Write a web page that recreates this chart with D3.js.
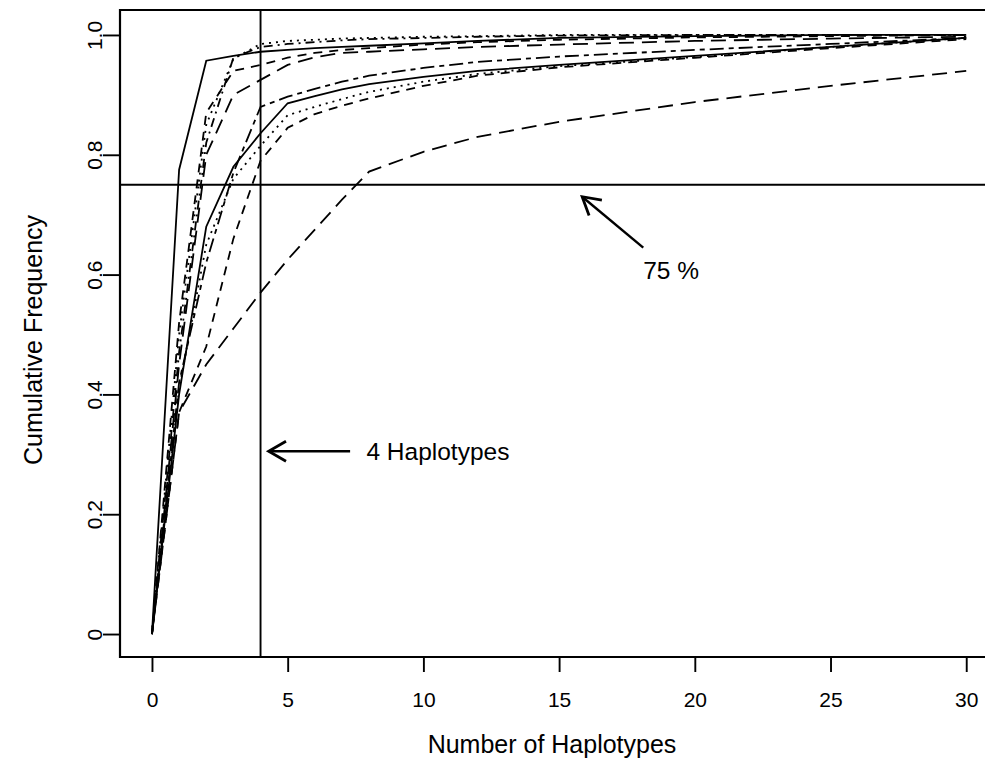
<!DOCTYPE html>
<html><head><meta charset="utf-8">
<script src="https://cdn.jsdelivr.net/npm/d3@7"></script>
<style>
html,body{margin:0;padding:0;background:#fff;}
svg{display:block;}
text{font-family:"Liberation Sans",Arial,Helvetica,sans-serif;fill:#000;}
</style></head><body>
<script>
// ---- data ----
const xValues = [0,1,2,3,4,5,6,7,8,10,12,15,20,25,30];
const serA  = [0,.775,.957,.965,.972,.975,.978,.980,.982,.986,.990,.995,.998,1,1];
const serU1 = [0,.50,.85,.960,.985,.990,.992,.994,.995,.997,.998,1,1,1,1];
const serU2 = [0,.47,.82,.962,.980,.985,.988,.991,.993,.995,.997,.999,1,1,1];
const serU3 = [0,.52,.87,.940,.950,.962,.970,.975,.978,.984,.988,.992,.996,.998,1];
const serU4 = [0,.45,.80,.900,.925,.950,.963,.970,.972,.976,.980,.984,.990,.994,.997];
const serF  = [0,.42,.62,.77,.88,.897,.910,.922,.932,.945,.955,.964,.975,.985,.995];
const serB  = [0,.40,.68,.78,.836,.886,.898,.909,.918,.930,.940,.950,.965,.980,.995];
const serE  = [0,.41,.65,.76,.815,.866,.880,.893,.905,.922,.935,.948,.963,.980,.995];
const serD  = [0,.37,.48,.66,.79,.845,.868,.882,.894,.915,.932,.946,.962,.978,.993];
const serC  = [0,.37,.45,.51,.57,.625,.675,.725,.772,.805,.830,.855,.888,.915,.940];
const seriesList = [serA, serU1, serU2, serU3, serU4, serF, serB, serE, serD, serC];
const seriesStyle = ["solid","dotted","dotdash","dashed","longdash","twodash","solid","dotted","dashed","longdash"];
const xTicks = [0,5,10,15,20,25,30];
const yTicks = [0,0.2,0.4,0.6,0.8,1.0];
const yTickLabels = ["0","0.2","0.4","0.6","0.8","1.0"];
const xTitle = "Number of Haplotypes";
const yTitle = "Cumulative Frequency";
const hLineValue = 0.75;
const vLineValue = 4;
const annot75 = {label:"75 %", from:[18.1,0.645], to:[15.85,0.73], text:[18.1,0.607]};
const annot4 = {label:"4 Haplotypes", from:[7.3,0.305], to:[4.3,0.305], text:[7.9,0.305]};

// ---- layout ----
const W = 985, H = 766;
const dashMap = {solid:null, dotted:"2,5", dashed:"9,7", longdash:"15,8", dotdash:"2,5,9,5", twodash:"5,5,14,5"};
const x = d3.scaleLinear().domain([-1.2, 31.2]).range([119.4, 998.8]);
const y = d3.scaleLinear().domain([-0.04, 1.04]).range([658, 11]);
const boxL = 120, boxT = 10, boxB = 657;

const svg = d3.select("body").append("svg").attr("width", W).attr("height", H);

// curves
const line = d3.line().x((d,i)=>x(xValues[i])).y(d=>y(d));
svg.append("g").selectAll("path").data(seriesList).join("path")
  .attr("d", d=>line(d))
  .attr("fill","none").attr("stroke","#000").attr("stroke-width",1.8)
  .attr("stroke-dasharray",(d,i)=>dashMap[seriesStyle[i]]);

// reference lines
svg.append("line").attr("x1",boxL).attr("x2",W).attr("y1",y(hLineValue)).attr("y2",y(hLineValue))
  .attr("stroke","#000").attr("stroke-width",1.9);
svg.append("line").attr("x1",x(vLineValue)).attr("x2",x(vLineValue)).attr("y1",boxT).attr("y2",boxB)
  .attr("stroke","#000").attr("stroke-width",1.9);

// box (right side cropped)
svg.append("path").attr("d",`M${W},${boxT}H${boxL}V${boxB}H${W}`)
  .attr("fill","none").attr("stroke","#000").attr("stroke-width",2.2);

// x axis
const xAxis = d3.axisBottom(x).tickValues(xTicks).tickSize(15).tickPadding(20).tickFormat(d3.format("d"));
const gx = svg.append("g").attr("transform",`translate(0,${boxB})`).call(xAxis);
gx.select(".domain").attr("d",`M${x(0)},0H${x(30)}`).attr("stroke-width",0);
gx.selectAll(".tick line").attr("stroke-width",1.9);
gx.selectAll(".tick text").attr("font-size",21).attr("font-family","Liberation Sans, Arial, sans-serif");

// y axis
const yAxis = d3.axisLeft(y).tickValues(yTicks).tickSize(17).tickFormat((d,i)=>yTickLabels[i]);
const gy = svg.append("g").attr("transform",`translate(${boxL},0)`).call(yAxis);
gy.select(".domain").attr("stroke-width",0);
gy.selectAll(".tick line").attr("stroke-width",1.9);
gy.selectAll(".tick text")
  .attr("font-size",21).attr("font-family","Liberation Sans, Arial, sans-serif")
  .attr("x",0).attr("dy",0).attr("text-anchor","middle")
  .attr("transform","translate(-18,0) rotate(-90)");

// titles
svg.append("text").attr("x",552).attr("y",753).attr("text-anchor","middle").attr("font-size",25).text(xTitle);
svg.append("text").attr("transform","translate(42,340) rotate(-90)").attr("text-anchor","middle").attr("font-size",25).text(yTitle);

// arrows
function arrow(a){
  const x1=x(a.from[0]), y1=y(a.from[1]), x2=x(a.to[0]), y2=y(a.to[1]);
  const ang=Math.atan2(y2-y1,x2-x1), L=20, sp=Math.PI/6;
  svg.append("line").attr("x1",x1).attr("y1",y1).attr("x2",x2).attr("y2",y2).attr("stroke","#000").attr("stroke-width",2.4);
  svg.append("path").attr("d",`M${x2-L*Math.cos(ang-sp)},${y2-L*Math.sin(ang-sp)}L${x2},${y2}L${x2-L*Math.cos(ang+sp)},${y2-L*Math.sin(ang+sp)}`)
    .attr("fill","none").attr("stroke","#000").attr("stroke-width",2.8);
}
arrow(annot75); arrow(annot4);
svg.append("text").attr("x",x(annot75.text[0])).attr("y",y(annot75.text[1])).attr("dy","0.35em").attr("font-size",24.5).text(annot75.label);
svg.append("text").attr("x",x(annot4.text[0])).attr("y",y(annot4.text[1])).attr("dy","0.35em").attr("font-size",24.5).text(annot4.label);
</script>
</body></html>
